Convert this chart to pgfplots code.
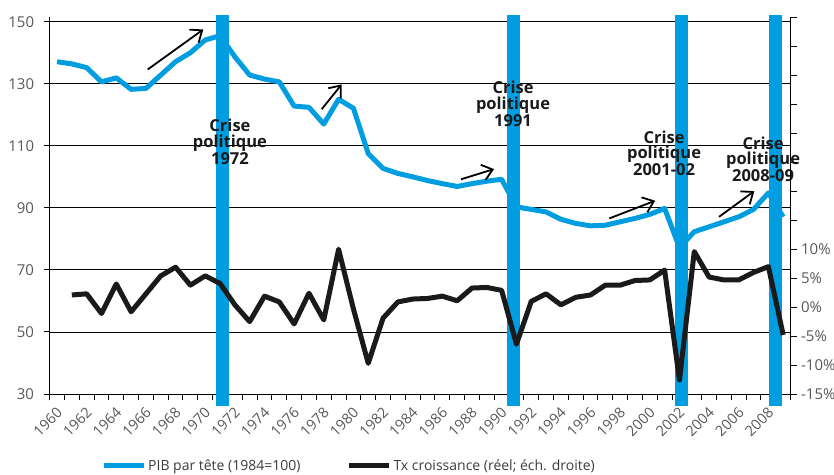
\documentclass[border=0pt]{standalone}
\usepackage{fontspec}
\setmainfont{Open Sans}
\usepackage{pgfplots}
\pgfplotsset{compat=1.18}
\usetikzlibrary{arrows.meta}
\definecolor{pibblue}{RGB}{0,158,224}
\definecolor{tickgray}{RGB}{88,88,88}
\definecolor{leggray}{RGB}{60,60,60}
\definecolor{annot}{RGB}{26,26,26}
\definecolor{txblack}{RGB}{26,26,26}

\pgfplotstableread{
year pib
1960 137.1
1961 136.4
1962 135.2
1963 130.6
1964 131.9
1965 128.2
1966 128.5
1967 132.8
1968 137.1
1969 140.0
1970 144.1
1971 145.5
1972 138.7
1973 132.8
1974 131.5
1975 130.6
1976 122.8
1977 122.4
1978 117.0
1979 125.0
1980 122.1
1981 107.5
1982 102.7
1983 101.1
1984 100.0
1985 98.8
1986 97.8
1987 96.9
1988 97.8
1989 98.6
1990 99.2
1991 90.3
1992 89.5
1993 88.7
1994 86.3
1995 85.0
1996 84.2
1997 84.4
1998 85.5
1999 86.6
2000 87.9
2001 89.8
2002 77.2
2003 82.3
2004 83.9
2005 85.5
2006 87.1
2007 89.5
2008 94.8
2009 87.1
}\pibtable

\pgfplotstableread{
year g
1961 2.1
1962 2.3
1963 -1.1
1964 4.0
1965 -0.8
1966 2.3
1967 5.4
1968 6.9
1969 3.8
1970 5.4
1971 4.1
1972 0.4
1973 -2.5
1974 1.9
1975 0.9
1976 -2.9
1977 2.4
1978 -2.2
1979 10.0
1980 -0.3
1981 -9.7
1982 -1.9
1983 0.9
1984 1.4
1985 1.5
1986 1.9
1987 1.1
1988 3.3
1989 3.4
1990 2.9
1991 -6.4
1992 1.0
1993 2.3
1994 0.4
1995 1.7
1996 2.1
1997 3.8
1998 3.8
1999 4.6
2000 4.7
2001 6.4
2002 -12.6
2003 9.6
2004 5.2
2005 4.7
2006 4.7
2007 6.0
2008 7.0
2009 -4.8
}\growthtable

\begin{document}
\begin{tikzpicture}
\path[use as bounding box] (-49.6pt,-80pt) rectangle (784.4pt,394pt);
\begin{axis}[
  at={(0pt,0pt)}, anchor=south west,
  scale only axis, width=741pt, height=376.7pt,
  xmin=1959.5, xmax=2009.5, ymin=30, ymax=151.42,
  clip=false,
  axis x line*=bottom, axis y line*=left,
  axis line style={-, black, line width=1pt},
  tick align=outside,
  major tick length=6pt, minor tick length=6pt,
  xtick={1960,1962,...,2008},
  minor xtick={1959.5,1960.5,...,2009.5},
  major x tick style={draw=none},
  minor x tick style={black, line width=1pt},
  y tick style={black, line width=1pt},
  ytick={30,50,...,150},
  ymajorgrids, major grid style={black, line width=0.9pt},
  /pgf/number format/assume math mode=true,
  /pgf/number format/1000 sep={},
  xticklabel style={rotate=45, anchor=east, yshift=-9pt, xshift=-2pt, font=\fontsize{14.5}{14.5}\selectfont, text=tickgray},
  yticklabel style={xshift=-6pt, font=\fontsize{15}{15}\selectfont, text=tickgray},
]
\addplot[pibblue, line width=13pt, forget plot] coordinates {(1971.17,26.2) (1971.17,152.2)};
\addplot[pibblue, line width=13pt, forget plot] coordinates {(1990.79,26.2) (1990.79,152.2)};
\addplot[pibblue, line width=13pt, forget plot] coordinates {(2002.13,26.2) (2002.13,152.2)};
\addplot[pibblue, line width=13pt, forget plot] coordinates {(2008.47,26.2) (2008.47,152.2)};
\addplot[pibblue, line width=5pt, line join=round] table[x=year, y=pib] {\pibtable};
\draw[black, line width=1.8pt, -{Straight Barb[length=10pt,width=16pt]}] (axis cs:1966.12,134.6) -- (axis cs:1969.87,147.5);
\draw[black, line width=1.8pt, -{Straight Barb[length=10pt,width=16pt]}] (axis cs:1977.86,121.8) -- (axis cs:1979.21,129.8);
\draw[black, line width=1.8pt, -{Straight Barb[length=10pt,width=16pt]}] (axis cs:1987.26,99.2) -- (axis cs:1989.49,102.5);
\draw[black, line width=1.8pt, -{Straight Barb[length=10pt,width=16pt]}] (axis cs:1997.27,86.6) -- (axis cs:2000.36,92.3);
\draw[black, line width=1.8pt, -{Straight Barb[length=10pt,width=16pt]}] (axis cs:2004.67,87.1) -- (axis cs:2007.05,95.4);
\node[font=\fontsize{16.5}{15.7}\selectfont\bfseries, align=center, text=annot] at (axis cs:1971.67,111.2) {Crise\\politique\\1972};
\node[font=\fontsize{16.5}{15.7}\selectfont\bfseries, align=center, text=annot] at (axis cs:1990.77,123.5) {Crise\\politique\\1991};
\node[font=\fontsize{16.5}{15.7}\selectfont\bfseries, align=center, text=annot] at (axis cs:2000.96,107.6) {Crise\\politique\\2001-02};
\node[font=\fontsize{16.5}{15.7}\selectfont\bfseries, align=center, text=annot] at (axis cs:2007.64,105.7) {Crise\\politique\\2008-09};
\end{axis}
\begin{axis}[
  at={(0pt,0pt)}, anchor=south west,
  scale only axis, width=741pt, height=376.7pt,
  xmin=1959.5, xmax=2009.5, ymin=-15, ymax=50.06,
  axis x line=none, axis y line*=right,
  axis line style={-, black, line width=1pt},
  tick align=outside, major tick length=6pt,
  y tick style={black, line width=1pt},
  ytick={-15,-10,...,10},
  yticklabels={-15\%,-10\%,-5\%,0\%,5\%,10\%},
  extra y ticks={15,20,...,50},
  extra y tick labels={},
  yticklabel style={xshift=1pt, font=\fontsize{15}{15}\selectfont, text=tickgray},
  legend style={at={(0.404,-0.19)}, anchor=center, draw=none, fill=none,
    font=\fontsize{14}{14}\selectfont, text=leggray,
    /tikz/every even column/.append style={column sep=44pt}},
  legend columns=2,
  legend image code/.code={\draw[#1] (0pt,0pt) -- (40pt,0pt);},
]
\addlegendimage{pibblue, line width=5pt}
\addlegendentry{PIB par tête (1984=100)}
\addplot[txblack, line width=5pt, line join=round] table[x=year, y=g] {\growthtable};
\addlegendentry{Tx croissance (réel; éch. droite)}
\end{axis}
\end{tikzpicture}
\end{document}
